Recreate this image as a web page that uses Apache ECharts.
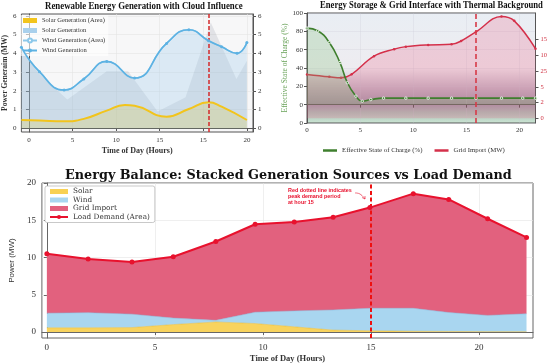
<!DOCTYPE html>
<html><head><meta charset="utf-8">
<script src="https://cdn.jsdelivr.net/npm/echarts@6/dist/echarts.min.js"></script>
<style>html,body{margin:0;padding:0;background:#fff}#c{width:550px;height:364px}</style>
</head><body><div id="c"></div>
<script>
// ---------- Top-left: Renewable generation ----------
const tlTickValues = [0, 5, 10, 15, 20, 25];
const tlTickLabels = ['0', '5', '10', '15', '15', '20'];
const tlYTicks = [0, 1, 2, 3, 4, 5, 6];
const windX = [-0.87, 1.2, 4.03, 6.29, 8.92, 12.12, 15.78, 18.34, 20.6, 22.1, 23.87, 25];
const windY = [4.32, 3.02, 2.04, 2.63, 3.57, 2.68, 4.53, 5.26, 4.67, 4.35, 4.0, 4.58];
const solarX = [-0.87, 1.2, 4.03, 6.29, 8.92, 11.0, 12.12, 15.78, 18.34, 20.6, 22.1, 25];
const solarY = [0.44, 0.41, 0.37, 0.5, 0.94, 1.24, 1.2, 0.62, 1.03, 1.39, 1.15, 0.44];
const cloudX = [-0.87, 1.2, 4.4, 8.92, 11.37, 14.76, 17.96, 20.86, 23.8, 25];
const cloudY = [4.2, 2.9, 1.53, 3.04, 3.04, 0.9, 1.65, 5.65, 2.63, 3.6];
const tlPeakX = 20.67;

// ---------- Top-right: Storage & grid ----------
const trLeftLabels = ['0', '0', '20', '40', '60', '80', '100'];
const trRightTicks = [0, 1, 2, 3, 4, 5];
const trRightLabels = ['0', '2', '5', '25', '10', '15'];
const socX = [0, 1, 2.1, 3.1, 3.8, 4.6, 5.2, 6.0, 7.2, 9.3, 11.4, 13.6, 15.9, 18.3, 20.3, 21.5];
const socY = [83.5, 80.6, 67.8, 45.9, 23.9, 9.3, 3.8, 5.6, 7.1, 7.1, 7.1, 7.1, 7.1, 7.1, 7.1, 7.1];
const gridImpX = [0, 2.1, 3.2, 4.2, 6.3, 8.2, 9.3, 11.4, 13.6, 14.5, 15.9, 18.3, 19.5, 21.5];
const gridImpY = [2.79, 2.64, 2.58, 2.8, 3.95, 4.4, 4.56, 4.67, 4.71, 4.92, 5.5, 6.48, 6.2, 4.43];
const trPeakX = 15.9;

// ---------- Bottom: Energy balance ----------
const hours = [0, 1.91, 3.94, 5.85, 7.82, 9.64, 11.45, 13.25, 14.95, 16.96, 18.6, 20.4, 22.2];
const solar = [0.57, 0.57, 0.6, 1.0, 1.35, 1.14, 0.7, 0.26, 0.17, 0.1, 0.08, 0.05, 0.05];
const wind = [1.96, 2.03, 1.8, 0.87, 0.22, 1.52, 2.14, 2.71, 3.02, 3.09, 2.54, 2.18, 2.4];
const gridImport = [7.97, 7.2, 7.0, 8.23, 10.58, 11.8, 11.93, 12.43, 13.51, 15.38, 15.18, 12.97, 10.25];
const loadDemand = [10.5, 9.8, 9.4, 10.1, 12.15, 14.46, 14.77, 15.4, 16.7, 18.57, 17.8, 15.2, 12.7];
const bTicks = [0, 5, 10, 15, 20];
const bPeakHour = 15;

const zip = (xs, ys) => xs.map((x, i) => [x, ys[i]]);
const serif = 'Liberation Serif';
const dserif = 'DejaVu Serif';
const splitL = { show: true, lineStyle: { color: '#e4e4e4', width: 0.6 } };
const boxLine = { show: true, lineStyle: { color: '#555', width: 1 } };
const lab = (sz, col) => ({ fontFamily: serif, fontSize: sz, color: col || '#333' });

const chart = echarts.init(document.getElementById('c'), null, { renderer: 'canvas' });

// stacked series: value first (stacked dimension), hour second
const stackedSeries = (name, vals, extra) => Object.assign({
  name, type: 'line', xAxisIndex: 2, yAxisIndex: 4, stack: 'gen',
  encode: { x: 1, y: 0 }, data: zip(vals, hours), showSymbol: false, z: 2
}, extra);

const option = {
  animation: false,
  backgroundColor: '#fff',
  grid: [
    { left: 18, top: 14, width: 235, height: 118, show: true, borderColor: '#555', borderWidth: 1, backgroundColor: '#f7f7f8' },
    { left: 307, top: 13, width: 231, height: 110, show: true, borderColor: '#555', borderWidth: 1,
      backgroundColor: new echarts.graphic.LinearGradient(0, 0, 0, 1, [
        { offset: 0, color: '#e9eef4' }, { offset: 0.5, color: '#eeecf0' },
        { offset: 0.68, color: '#c4b8c6' }, { offset: 0.82, color: '#a298aa' },
        { offset: 0.9, color: '#aac2b8' }, { offset: 1, color: '#cde6d4' }]) },
    { left: 41, top: 183, width: 492, height: 159, show: true, borderColor: '#666', borderWidth: 1, backgroundColor: '#fff' }
  ],
  xAxis: [
    { gridIndex: 0, type: 'value', min: -0.87, max: 25.7,
      axisLine: boxLine, axisTick: { show: true, customValues: tlTickValues, length: 3 },
      axisLabel: { ...lab(7), customValues: tlTickValues, margin: 5,
        formatter: v => tlTickLabels[tlTickValues.indexOf(v)] },
      splitLine: splitL,
      name: 'Time of Day (Hours)', nameLocation: 'middle', nameGap: 15,
      nameTextStyle: { fontFamily: serif, fontSize: 8, fontWeight: 'bold', color: '#333' } },
    { gridIndex: 1, type: 'value', min: 0, max: 21.5, interval: 5,
      axisLine: boxLine, axisTick: { show: true, length: 3 },
      axisLabel: { ...lab(7), margin: 4, showMaxLabel: false }, splitLine: { show: true, lineStyle: { color: 'rgba(200,200,210,0.5)', width: 0.5 } } },
    { gridIndex: 2, type: 'value', min: -0.23, max: 22.5,
      axisLine: { show: true, lineStyle: { color: '#666', width: 1 } }, axisTick: { show: true, customValues: bTicks, length: 3 },
      axisLabel: { ...lab(9), customValues: bTicks, margin: 5 }, splitLine: splitL,
      name: 'Time of Day (Hours)', nameLocation: 'middle', nameGap: 16,
      nameTextStyle: { fontFamily: serif, fontSize: 8.5, fontWeight: 'bold', color: '#333' } }
  ],
  yAxis: [
    { gridIndex: 0, type: 'value', min: -0.2, max: 6.1, position: 'left',
      axisLine: boxLine, axisTick: { show: true, customValues: tlYTicks, length: 3 },
      axisLabel: { ...lab(7), customValues: tlYTicks, margin: 5 }, splitLine: splitL,
      name: 'Power Generaim (MW)', nameLocation: 'middle', nameGap: 11,
      nameTextStyle: { fontFamily: serif, fontSize: 7.5, fontWeight: 'bold', color: '#333' } },
    { gridIndex: 0, type: 'value', min: -0.2, max: 6.1, position: 'right',
      axisLine: boxLine, axisTick: { show: true, customValues: tlYTicks, length: 3 },
      axisLabel: { ...lab(7), customValues: tlYTicks, margin: 5 }, splitLine: { show: false } },
    { gridIndex: 1, type: 'value', min: -20, max: 100, interval: 20, position: 'left',
      axisLine: boxLine, axisTick: { show: true, length: 3 },
      axisLabel: { ...lab(7), margin: 4, formatter: v => trLeftLabels[Math.round((v + 20) / 20)] },
      splitLine: { show: true, lineStyle: { color: 'rgba(200,200,210,0.5)', width: 0.5 } },
      name: 'Effective State of Charge (%)', nameLocation: 'middle', nameGap: 16,
      nameTextStyle: { fontFamily: serif, fontSize: 7.5, color: '#6aa35a' } },
    { gridIndex: 1, type: 'value', min: -0.3, max: 6.7, position: 'right',
      axisLine: boxLine, axisTick: { show: true, customValues: trRightTicks, length: 3 },
      axisLabel: { ...lab(6.5, '#d03040'), customValues: trRightTicks, margin: 5,
        formatter: v => trRightLabels[Math.round(v)] }, splitLine: { show: false } },
    { gridIndex: 2, type: 'value', min: -0.8, max: 20, position: 'left',
      axisLine: { show: true, lineStyle: { color: '#666', width: 1 } }, axisTick: { show: true, customValues: bTicks, length: 3 },
      axisLabel: { ...lab(9), customValues: bTicks, margin: 6 }, splitLine: splitL,
      name: 'Power (MW)', nameLocation: 'middle', nameGap: 24,
      nameTextStyle: { fontFamily: 'Liberation Sans Narrow, Liberation Sans', fontSize: 8, color: '#333' } }
  ],
  legend: [
    { left: 19, top: 15, orient: 'vertical', itemWidth: 14, itemHeight: 5, itemGap: 3,
      backgroundColor: 'rgba(255,255,255,0.6)', padding: [2, 3],
      textStyle: { fontFamily: serif, fontSize: 6.5, color: '#333' },
      data: [
        { name: 'Solar Generation (Area)', icon: 'rect' },
        { name: 'Solar Generation', icon: 'rect' },
        { name: 'Wind Generation (Area)' },
        { name: 'Wind Generation' }] },
    { left: 318, top: 142, orient: 'horizontal', itemWidth: 14, itemHeight: 2.5, itemGap: 12,
      textStyle: { fontFamily: serif, fontSize: 6.8, color: '#333' },
      data: [{ name: 'Effective State of Charge (%)', icon: 'rect' }, { name: 'Grid Import (MW)', icon: 'rect' }] },
    { left: 45, top: 186, orient: 'vertical', itemWidth: 18, itemHeight: 5, itemGap: 1.5,
      borderColor: '#bbb', borderWidth: 0.8, borderRadius: 2, backgroundColor: '#fff', padding: [2, 5, 2, 4],
      textStyle: { fontFamily: dserif, fontSize: 7.3, color: '#333' },
      data: [{ name: 'Solar', icon: 'rect' }, { name: 'Wind', icon: 'rect' }, { name: 'Grid Import', icon: 'rect' }, { name: 'Load Demand (Area)' }] }
  ],
  series: [
    // ---- top-left
    { name: 'Solar Generation', type: 'line', xAxisIndex: 0, yAxisIndex: 0,
      data: zip(cloudX, cloudY), showSymbol: false, lineStyle: { width: 0 },
      itemStyle: { color: '#a9d0ec' }, areaStyle: { color: 'rgba(140,145,160,0.28)' }, z: 2 },
    { name: 'Wind Generation (Area)', type: 'line', xAxisIndex: 0, yAxisIndex: 0,
      data: zip(windX, windY), smooth: 0.5, showSymbol: false,
      lineStyle: { width: 1.5, color: '#8cc8ea' }, itemStyle: { color: '#8cc8ea' },
      areaStyle: { color: 'rgba(160,205,236,0.45)' }, z: 3 },
    { name: 'Solar Generation (Area)', type: 'line', xAxisIndex: 0, yAxisIndex: 0,
      data: zip(solarX, solarY), smooth: 0.5, showSymbol: false,
      lineStyle: { width: 2, color: '#f2c41c' }, itemStyle: { color: '#f2c41c' },
      areaStyle: { color: 'rgba(225,205,60,0.35)' }, z: 4 },
    { name: 'Wind Generation', type: 'line', xAxisIndex: 0, yAxisIndex: 0,
      data: zip(windX, windY), smooth: 0.5, symbol: 'circle', symbolSize: 3, showSymbol: true,
      lineStyle: { width: 1.6, color: '#5db2e3' }, itemStyle: { color: '#5db2e3' }, z: 5,
      markLine: { silent: true, symbol: 'none', label: { show: false },
        lineStyle: { color: '#d42a2a', type: [4, 2], width: 1.5 }, data: [{ xAxis: tlPeakX }] } },
    // ---- top-right
    { name: 'Grid Import (MW)', type: 'line', xAxisIndex: 1, yAxisIndex: 3,
      data: zip(gridImpX, gridImpY), smooth: 0.4, symbol: 'circle', symbolSize: 2.5,
      lineStyle: { width: 1.5, color: '#d4304a' }, itemStyle: { color: '#d4304a' },
      areaStyle: { color: 'rgba(235,90,130,0.33)' }, z: 3,
      markLine: { silent: true, symbol: 'none', label: { show: false },
        lineStyle: { color: '#d63a48', type: [5, 3], width: 1.6 }, data: [{ xAxis: trPeakX }] } },
    { name: 'Effective State of Charge (%)', type: 'line', xAxisIndex: 1, yAxisIndex: 2,
      data: zip(socX, socY), smooth: 0.5, symbol: 'circle', symbolSize: 2.5, showSymbol: true,
      lineStyle: { width: 1.6, color: '#3f7f2e' }, itemStyle: { color: '#3f7f2e', borderColor: '#e8f0e8' },
      areaStyle: { color: 'rgba(120,190,110,0.35)' }, z: 4 },
    // ---- bottom
    stackedSeries('Solar', solar, { lineStyle: { width: 0.5, color: '#e8b830' },
      itemStyle: { color: '#f8d154' }, areaStyle: { color: '#f8d35e', opacity: 1 } }),
    stackedSeries('Wind', wind, { lineStyle: { width: 0.5, color: '#7fb9de' },
      itemStyle: { color: '#a9d6f0' }, areaStyle: { color: '#a9d6f0', opacity: 1 } }),
    stackedSeries('Grid Import', gridImport, { lineStyle: { width: 0 },
      itemStyle: { color: '#e2617e' }, areaStyle: { color: '#e2617e', opacity: 1 } }),
    { name: 'Load Demand (Area)', type: 'line', xAxisIndex: 2, yAxisIndex: 4,
      data: zip(hours, loadDemand), symbol: 'circle', symbolSize: 5,
      lineStyle: { width: 2, color: '#e8112d' }, itemStyle: { color: '#e8112d' }, z: 5,
      markLine: { silent: true, symbol: 'none', label: { show: false },
        lineStyle: { color: '#ee1010', type: [4, 2.5], width: 2 }, data: [{ xAxis: bPeakHour }] } }
  ],
  graphic: [
    { type: 'text', x: 45, y: 2, scaleX: 0.93, style: { text: 'Renewable Energy Generation with Cloud Influence',
      font: 'bold 9.5px "Liberation Serif"', fill: '#111' } },
    { type: 'text', x: 320, y: 1, scaleX: 0.91, style: { text: 'Energy Storage & Grid Interface with Thermal Background',
      font: 'bold 9.5px "Liberation Serif"', fill: '#111' } },
    { type: 'text', left: 65, top: 169, style: { text: 'Energy Balance: Stacked Generation Sources vs Load Demand',
      font: 'bold 12.8px "DejaVu Serif"', fill: '#111' } },
    { type: 'text', left: 288, top: 188, style: { text: 'Red dotted line indicates\npeak demand period\nat hour 15',
      font: 'bold 5.4px "Liberation Sans"', fill: '#e8112d', lineHeight: 6 } },
    { type: 'polyline', shape: { points: [[355, 193], [360, 194], [365, 199]], smooth: 0.5 },
      style: { stroke: '#e8112d', lineWidth: 0.6, fill: null } },
    { type: 'polyline', shape: { points: [[362, 197.5], [365, 199], [365, 196]] },
      style: { stroke: '#e8112d', lineWidth: 0.6, fill: null } }
  ]
};
chart.setOption(option);
</script></body></html>
